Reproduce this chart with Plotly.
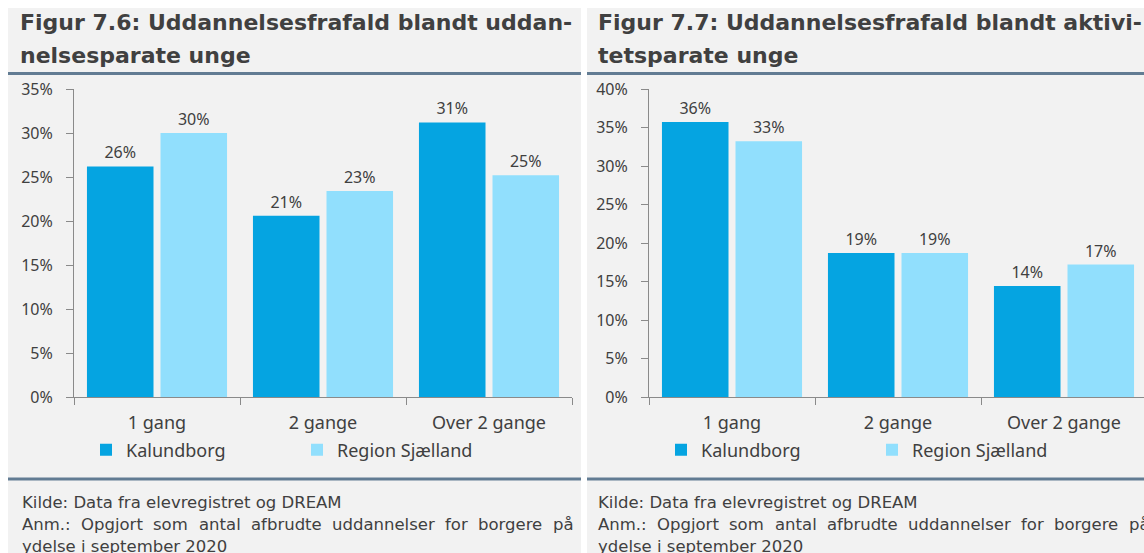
import plotly.graph_objects as go

W, H = 1144, 553

categories = ["1 gang", "2 gange", "Over 2 gange"]
series_names = ["Kalundborg", "Region Sjælland"]
left_kalundborg = [0.262, 0.206, 0.312]
left_region = [0.300, 0.234, 0.252]
right_kalundborg = [0.357, 0.187, 0.144]
right_region = [0.332, 0.187, 0.172]
left_yticks = [0, 0.05, 0.10, 0.15, 0.20, 0.25, 0.30, 0.35]
right_yticks = [0, 0.05, 0.10, 0.15, 0.20, 0.25, 0.30, 0.35, 0.40]

left_title = ["Figur 7.6: Uddannelsesfrafald blandt uddan-", "nelsesparate unge"]
right_title = ["Figur 7.7: Uddannelsesfrafald blandt aktivi-", "tetsparate unge"]
note_line1 = "Kilde: Data fra elevregistret og DREAM"
note_line2_words = ["Anm.:", "Opgjort", "som", "antal", "afbrudte", "uddannelser", "for", "borgere", "på"]
note_line2_offsets = [0, 59, 131, 176.5, 228.5, 309.5, 422.5, 455.5, 531]
note_line3 = "ydelse i september 2020"

DARK = "#05a4e1"
LIGHT = "#91dffd"
TXT = "#404040"
PANEL = "#f2f2f2"
RULE = "#627c93"
AX = "#8a8a8a"
CHART_FONT = "Noto Sans"
DOC_FONT = "DejaVu Sans"

def px(x):
    return x / W

def py(y):
    return 1 - y / H

fig = go.Figure()

for xa, ya, kal, reg, leg in [("x", "y", left_kalundborg, left_region, "legend"),
                               ("x2", "y2", right_kalundborg, right_region, "legend2")]:
    for name, vals, col in [(series_names[0], kal, DARK), (series_names[1], reg, LIGHT)]:
        fig.add_trace(go.Bar(
            x=categories, y=vals, name=name, xaxis=xa, yaxis=ya, legend=leg,
            marker=dict(color=col, line=dict(width=0)),
            texttemplate="%{y:.0%}", textposition="outside", cliponaxis=False,
            textfont=dict(family=CHART_FONT, size=16, color=TXT),
            hoverinfo="skip",
        ))

y0, y1 = py(397), py(89)
common_x = dict(type="category", showline=True, linecolor=AX, linewidth=1,
                ticks="outside", tickson="boundaries", ticklen=7, tickcolor=AX,
                tickfont=dict(family=CHART_FONT, size=18, color=TXT), automargin=False,
                showgrid=False, zeroline=False, ticklabelstandoff=9)
common_y = dict(showline=True, linecolor=AX, linewidth=1, ticks="outside", ticklen=7,
                tickcolor=AX, tickformat=".0%", showgrid=False, zeroline=False, automargin=False,
                tickfont=dict(family=CHART_FONT, size=16, color=TXT), ticklabelstandoff=10)

fig.update_layout(
    width=W, height=H, autosize=False,
    margin=dict(l=0, r=0, t=0, b=0, pad=0, autoexpand=False),
    paper_bgcolor="white", plot_bgcolor="rgba(0,0,0,0)",
    barmode="group", bargap=0.114, bargroupgap=0.095,
    showlegend=True,
    xaxis=dict(domain=[px(74), px(572)], range=[-0.5, 2.5], anchor="y", **common_x),
    yaxis=dict(domain=[y0, y1], range=[0, 0.35], tickvals=left_yticks, anchor="x", **common_y),
    xaxis2=dict(domain=[px(649), 1.0], range=[-0.5, 2.5 - 3 / 166], anchor="y2", **common_x),
    yaxis2=dict(domain=[y0, y1], range=[0, 0.40], tickvals=right_yticks, anchor="x2", **common_y),
    legend=dict(orientation="h", x=px(86), xanchor="left", y=py(450), yanchor="middle",
                entrywidth=166, bgcolor="rgba(0,0,0,0)",
                font=dict(family=CHART_FONT, size=18, color=TXT)),
    legend2=dict(orientation="h", x=px(661), xanchor="left", y=py(450), yanchor="middle",
                 entrywidth=166, bgcolor="rgba(0,0,0,0)",
                 font=dict(family=CHART_FONT, size=18, color=TXT)),
)

shapes = []
for (xl, xr) in [(8, 581), (587, 1144)]:
    shapes.append(dict(type="rect", xref="paper", yref="paper", x0=px(xl), x1=px(xr),
                       y0=0, y1=py(8), fillcolor=PANEL, line=dict(width=0), layer="below"))
    for yy in (73.5, 479):
        shapes.append(dict(type="line", xref="paper", yref="paper", x0=px(xl), x1=px(xr),
                           y0=py(yy), y1=py(yy), line=dict(color=RULE, width=3), layer="below"))
fig.update_layout(shapes=shapes)

ann = []
for x0, title in [(18, left_title), (596, right_title)]:
    for i, line in enumerate(title):
        ann.append(dict(text=f"<b>{line}</b>", x=px(x0), y=py(23 + 33 * i), xref="paper", yref="paper",
                        xanchor="left", yanchor="middle", showarrow=False,
                        font=dict(family=DOC_FONT, size=22, color=TXT)))
for x0 in (20, 596):
    ann.append(dict(text=note_line1, x=px(x0), y=py(502), xref="paper", yref="paper",
                    xanchor="left", yanchor="middle", showarrow=False,
                    font=dict(family=DOC_FONT, size=16.5, color=TXT)))
    for word, off in zip(note_line2_words, note_line2_offsets):
        ann.append(dict(text=word, x=px(x0 + off), y=py(524), xref="paper", yref="paper",
                        xanchor="left", yanchor="middle", showarrow=False,
                        font=dict(family=DOC_FONT, size=16.5, color=TXT)))
    ann.append(dict(text=note_line3, x=px(x0), y=py(546), xref="paper", yref="paper",
                    xanchor="left", yanchor="middle", showarrow=False,
                    font=dict(family=DOC_FONT, size=16.5, color=TXT)))
fig.update_layout(annotations=ann)

post = (
    "var gd=document.getElementById('{plot_id}');"
    "var de=document.documentElement;de.style.margin='0';de.style.padding='0';de.style.overflow='hidden';"
    "document.body.style.margin='0';document.body.style.padding='0';document.body.style.overflow='hidden';"
    "gd.style.position='absolute';gd.style.left='0px';gd.style.top='0px';"
)
fig.write_html("out.html", config={"displayModeBar": False, "staticPlot": True}, post_script=post)
